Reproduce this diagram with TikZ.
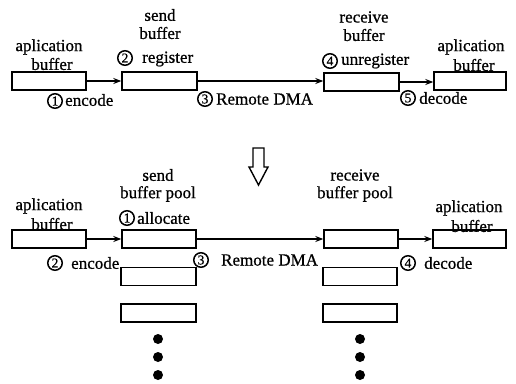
\documentclass[tikz,border=0pt]{standalone}
\usepackage{fontspec}
\setmainfont{Liberation Serif}
\newfontfamily\scanfont{Liberation Serif}[FakeBold=0.8]
\usetikzlibrary{arrows.meta}
\tikzset{
  box/.style={draw, line width=1.4pt, minimum width=74pt, minimum height=18pt, inner sep=0pt},
  lbl/.style={inner sep=0pt, font=\scanfont\fontsize{17}{19}\selectfont},
  num/.style={circle, draw, line width=1.5pt, inner sep=0pt, minimum size=14.5pt, font=\scanfont\fontsize{13.5}{13.5}\selectfont},
  dotnode/.style={circle, fill=black, inner sep=0pt, minimum size=10pt},
  conn/.style={line width=1.2pt, -{Stealth[length=8pt,width=6pt]}},
}
\begin{document}
\begin{tikzpicture}[x=1pt,y=-1pt]
\path[use as bounding box] (0,0) rectangle (516,383);
% ---------- top row ----------
\node[box] (a1) at (49,81) {};
\node[box, minimum width=75pt] (s1) at (159.5,81) {};
\node[box, minimum width=75pt] (r1) at (361.5,82) {};
\node[box, minimum width=72pt] (b1) at (470,81) {};
\draw[conn] (a1.east) -- (s1.west |- a1.east);
\draw[conn] (s1.east) -- (r1.west |- s1.east);
\draw[conn] (r1.east) -- (b1.west |- r1.east);

\node[lbl] (t1) at (49,47) {aplication};
\node[lbl] (t2) at (52,64) {buffer};
\node[lbl] (t3) at (160,15) {send};
\node[lbl] (t4) at (160,33) {buffer};
\node[num] (n2) at (125,58) {2};
\node[lbl, anchor=west] (t5) at (142,59) {register};
\node[num] (n1) at (55,101) {1};
\node[lbl, anchor=west] (t6) at (65,100) {encode};
\node[num] (n3) at (205,99) {3};
\node[lbl, anchor=west] (t7) at (216,99) {Remote DMA};
\node[lbl] (t8) at (364,17) {receive};
\node[lbl] (t9) at (364,35) {buffer};
\node[num] (n4) at (330,61) {4};
\node[lbl, anchor=west] (t10) at (341,61) {unregister};
\node[lbl] (t11) at (471,47) {aplication};
\node[lbl] (t12) at (474,65) {buffer};
\node[num] (n5) at (408,98) {5};
\node[lbl, anchor=west] (t13) at (419,98) {decode};

% ---------- down arrow ----------
\draw[line width=1.4pt, line join=miter]
  (253,148) -- (264,148) -- (264,167) -- (268,167) -- (258.5,185)
  -- (249,167) -- (253,167) -- cycle;

% ---------- bottom row ----------
\node[box] (a2) at (49,239) {};
\node[box] (s2) at (159,239) {};
\node[box] (r2) at (361,239) {};
\node[box, minimum width=73pt] (b2) at (469.5,239) {};
\draw[conn] (a2.east) -- (s2.west);
\draw[conn] (s2.east) -- (r2.west);
\draw[conn] (r2.east) -- (b2.west);
\node[box, minimum width=75pt] (s3) at (158.5,276.5) {};
\node[box, minimum width=75pt] (s4) at (158.5,313) {};
\node[box] (r3) at (360,276.5) {};
\node[box] (r4) at (360,313) {};
\node[dotnode] (d1) at (158,339) {};
\node[dotnode] (d2) at (158,357) {};
\node[dotnode] (d3) at (158,375) {};
\node[dotnode] (d4) at (360,339) {};
\node[dotnode] (d5) at (360,357) {};
\node[dotnode] (d6) at (360,375) {};

\node[lbl] (u1) at (158,175) {send};
\node[lbl] (u2) at (158,194) {buffer pool};
\node[num] (m1) at (127,218) {1};
\node[lbl, anchor=west] (u3) at (137,218) {allocate};
\node[lbl] (u4) at (49,206) {aplication};
\node[lbl] (u5) at (52,224) {buffer};
\node[lbl] (u6) at (355,175) {receive};
\node[lbl] (u7) at (355,194) {buffer pool};
\node[lbl] (u8) at (469,208) {aplication};
\node[lbl] (u9) at (472,226) {buffer};
\node[num] (m2) at (55,263) {2};
\node[lbl, anchor=west] (u10) at (71,263) {encode};
\node[num] (m3) at (201,260) {3};
\node[lbl, anchor=west] (u11) at (221,260) {Remote DMA};
\node[num] (m4) at (408,263) {4};
\node[lbl, anchor=west] (u12) at (424,263) {decode};
\end{tikzpicture}
\end{document}
